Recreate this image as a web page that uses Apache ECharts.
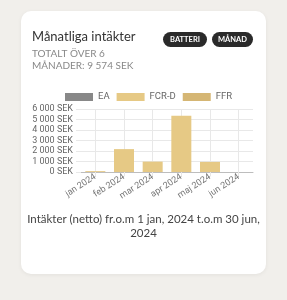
<!DOCTYPE html>
<html><head><meta charset="utf-8">
<script src="https://cdn.jsdelivr.net/npm/echarts@6/dist/echarts.min.js"></script>
<style>html,body{margin:0;padding:0;background:#f1efeb;}#c{width:287px;height:300px;}</style>
</head><body><div id="c"></div>
<script>
const categories = ['jan 2024','feb 2024','mar 2024','apr 2024','maj 2024','jun 2024'];
const seriesNames = ['EA','FCR-D','FFR'];
const eaValues = [0,0,0,0,0,0];
const fcrdValues = [84,2180,990,5360,960,0];
const ffrValues = [0,0,0,0,0,0];
const yTicks = [0,1000,2000,3000,4000,5000,6000];
const titleText = 'Månatliga intäkter';
const subText = 'TOTALT ÖVER 6\nMÅNADER: 9 574 SEK';
const buttons = ['BATTERI','MÅNAD'];
const footerText = 'Intäkter (netto) fr.o.m 1 jan, 2024 t.o.m 30 jun,\n2024';

const fmt = v => String(v).replace(/\B(?=(\d{3})+(?!\d))/g,' ') + ' SEK';
const colors = ['#888888','#e6c985','#d5b674'];
const font = 'Lato, "Open Sans", sans-serif';

const chart = echarts.init(document.getElementById('c'), null, {renderer:'canvas'});
chart.setOption({
  animation:false,
  backgroundColor:'#f1efeb',
  graphic:[
    {type:'rect', z:-10, shape:{x:21,y:11,width:245,height:263,r:10},
     style:{fill:'#ffffff', shadowBlur:4, shadowColor:'rgba(0,0,0,0.06)', shadowOffsetY:1}},
    {type:'text', left:32, top:30, style:{text:titleText, font:'13px '+font, fill:'#333'}},
    {type:'text', left:32, top:48, style:{text:subText, font:'10px '+font, fill:'#888', lineHeight:12}},
    {type:'group', left:163, top:32, children:[
      {type:'rect', shape:{x:0,y:0,width:44,height:15,r:7.5}, style:{fill:'#2a2a2a'}},
      {type:'text', x:22, y:7.5, style:{text:buttons[0], font:'bold 7.5px '+font, fill:'#fff', align:'center', verticalAlign:'middle'}}
    ]},
    {type:'group', left:212, top:32, children:[
      {type:'rect', shape:{x:0,y:0,width:41,height:15,r:7.5}, style:{fill:'#2a2a2a'}},
      {type:'text', x:20.5, y:7.5, style:{text:buttons[1], font:'bold 7.5px '+font, fill:'#fff', align:'center', verticalAlign:'middle'}}
    ]},
    {type:'text', x:143.5, y:212, style:{text:footerText, font:'11.5px '+font, fill:'#444', align:'center', lineHeight:14}}
  ],
  legend:{
    left:65, top:92, padding:0, itemWidth:28, itemHeight:8, itemGap:7,
    icon:'rect',
    textStyle:{fontSize:9.5, color:'#666', fontFamily:'Roboto, sans-serif', padding:[0,0,0,0]},
    data:seriesNames
  },
  grid:{left:81, right:34, top:109, bottom:128, containLabel:false},
  xAxis:{
    type:'category', data:categories, boundaryGap:true,
    axisLine:{lineStyle:{color:'#bdbdbd'}},
    axisTick:{show:true, alignWithLabel:true, length:4, lineStyle:{color:'#e6e6e6'}},
    splitLine:{show:true, alignWithLabel:true, lineStyle:{color:'#e8e8e8'}},
    axisLabel:{rotate:33, fontSize:9, color:'#777', fontFamily:'Roboto, sans-serif', margin:4}
  },
  yAxis:{
    type:'value', min:yTicks[0], max:yTicks[yTicks.length-1], interval:yTicks[1]-yTicks[0],
    axisLine:{show:false},
    axisTick:{show:true, length:5, lineStyle:{color:'#e8e8e8'}},
    splitLine:{lineStyle:{color:'#e8e8e8'}},
    axisLabel:{formatter:fmt, fontSize:9, color:'#666', fontFamily:'Roboto, sans-serif', margin:8}
  },
  series:[
    {name:seriesNames[0], type:'bar', stack:'s', data:eaValues, barWidth:20, itemStyle:{color:colors[0]}},
    {name:seriesNames[1], type:'bar', stack:'s', data:fcrdValues, barWidth:20, itemStyle:{color:colors[1]}},
    {name:seriesNames[2], type:'bar', stack:'s', data:ffrValues, barWidth:20, itemStyle:{color:colors[2]}}
  ]
});
</script></body></html>
